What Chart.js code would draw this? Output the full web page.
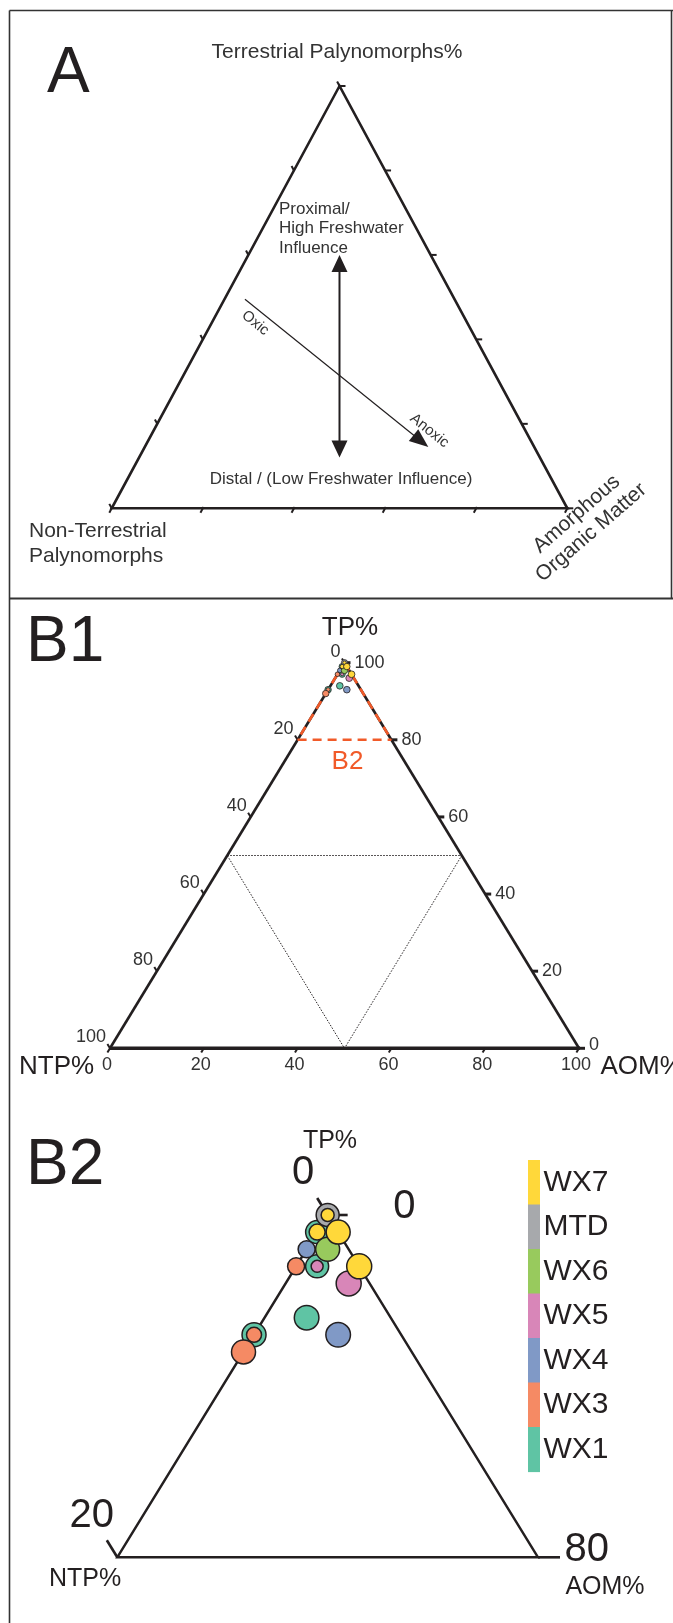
<!DOCTYPE html>
<html>
<head>
<meta charset="utf-8">
<script src="https://cdn.jsdelivr.net/npm/chart.js@4.4.1/dist/chart.umd.min.js"></script>
<style>
  html, body { margin: 0; padding: 0; background: #fff; }
  #fig { position: relative; width: 673px; height: 1623px; overflow: hidden; background: #fff; }
  #fig canvas { position: absolute; left: 0; }
</style>
</head>
<body>
<div id="fig">
  <canvas id="panelA"  width="673" height="600" style="top:0px"></canvas>
  <canvas id="panelB1" width="673" height="500" style="top:600px"></canvas>
  <canvas id="panelB2" width="673" height="523" style="top:1100px"></canvas>
</div>
<script>
// ---------------- data ----------------
// stratigraphic units (legend order, top to bottom)
const units = ['WX7', 'MTD', 'WX6', 'WX5', 'WX4', 'WX3', 'WX1'];

// one entry per sample: unit and palynofacies composition (%)
const sampleUnit = ['MTD', 'WX7', 'WX1', 'WX7', 'WX7', 'WX4', 'WX6', 'WX3', 'WX1',
                    'WX5', 'WX7', 'WX5', 'WX1', 'WX4', 'WX1', 'WX3', 'WX3'];
const tpPct  = [100, 100, 99, 99, 99, 98, 98, 97, 97, 97, 97, 96, 94, 93, 93, 93, 92];
const ntpPct = [  0,   0,  1,  1,  0,  2,  1,  3,  2,  2,  0,  1,  4,  3,  7,  7,  8];
const aomPct = [  0,   0,  0,  0,  1,  0,  1,  0,  1,  1,  3,  3,  2,  4,  0,  0,  0];

// axis ticks (%)
const tickValues = [0, 20, 40, 60, 80, 100];

// interpretive arrows of the template diagram, as [TP, NTP, AOM]
const freshwaterTop    = [60, 20, 20];
const freshwaterBottom = [12, 44, 44];
const redoxStart       = [49.5, 46, 4.5];
const redoxEnd         = [14.5, 23.25, 62.25];

// enlarged window (B2): TP 80-100
const windowTpMin = 80;

// ---------------- styles ----------------
const INK = '#231f20';
const FONT = "'Liberation Sans', Arial, Helvetica, sans-serif";
const ORANGE = '#f15a29';
const unitColor = {
  WX7: '#ffd83a', MTD: '#a7a9ac', WX6: '#98ca5d', WX5: '#d886b8',
  WX4: '#8099c6', WX3: '#f58a64', WX1: '#5fc4a4'
};
// marker radius for each sample in the enlarged panel
const sampleRadius = [11.5, 6.5, 11.5, 8, 12, 8.5, 12, 8.5, 11.5, 6, 12.5, 12.5, 12.3, 12.3, 12, 7.5, 12];

// ---------------- helpers ----------------
// ternary -> cartesian data coordinates (x along base, y = TP)
function tern(tp, ntp, aom) { return { x: aom + tp / 2, y: tp }; }
function toPixel(chart, t) {
  const p = tern(t[0], t[1], t[2]);
  return { x: chart.scales.x.getPixelForValue(p.x), y: chart.scales.y.getPixelForValue(p.y) };
}
function add(a, d, k) { return { x: a.x + d.x * k, y: a.y + d.y * k }; }
function dirOf(a, b) { const dx = b.x - a.x, dy = b.y - a.y, l = Math.hypot(dx, dy); return { x: dx / l, y: dy / l }; }
function seg(ctx, a, b) { ctx.beginPath(); ctx.moveTo(a.x, a.y); ctx.lineTo(b.x, b.y); ctx.stroke(); }
function text(ctx, s, x, y, size, align, base, color, rot) {
  ctx.save();
  ctx.font = size + 'px ' + FONT;
  ctx.fillStyle = color || INK;
  ctx.textAlign = align || 'center';
  ctx.textBaseline = base || 'middle';
  ctx.translate(x, y);
  if (rot) ctx.rotate(rot);
  ctx.fillText(s, 0, 0);
  ctx.restore();
}
function arrowHead(ctx, tip, dir, len, half) {
  const base = add(tip, dir, -len);
  const n = { x: -dir.y, y: dir.x };
  ctx.beginPath();
  ctx.moveTo(tip.x, tip.y);
  ctx.lineTo(base.x + n.x * half, base.y + n.y * half);
  ctx.lineTo(base.x - n.x * half, base.y - n.y * half);
  ctx.closePath();
  ctx.fill();
}
function leftBorder(ctx, h) {
  ctx.save(); ctx.strokeStyle = '#333'; ctx.lineWidth = 1.6;
  seg(ctx, { x: 9.5, y: 0 }, { x: 9.5, y: h }); ctx.restore();
}
function unitDatasets(scale, bw) {
  return units.map(u => {
    const idx = sampleUnit.map((s, i) => (s === u ? i : -1)).filter(i => i >= 0);
    return {
      label: u,
      data: idx.map(i => tern(tpPct[i], ntpPct[i], aomPct[i])),
      pointRadius: idx.map(i => sampleRadius[i] * scale),
      pointHoverRadius: idx.map(i => sampleRadius[i] * scale),
      pointBackgroundColor: unitColor[u],
      pointBorderColor: INK,
      pointBorderWidth: bw,
      showLine: false,
      clip: false
    };
  });
}
function makeChart(id, xr, yr, pad, datasets, plugin) {
  return new Chart(document.getElementById(id), {
    type: 'scatter',
    data: { datasets: datasets },
    options: {
      responsive: false,
      animation: false,
      devicePixelRatio: 1,
      events: [],
      layout: { padding: pad },
      scales: {
        x: { type: 'linear', min: xr[0], max: xr[1], display: false },
        y: { type: 'linear', min: yr[0], max: yr[1], display: false }
      },
      plugins: { legend: { display: false }, tooltip: { enabled: false } }
    },
    plugins: [plugin]
  });
}

// ---------------- panel A: interpretive template ----------------
const panelAPlugin = {
  id: 'panelA',
  afterDraw(chart) {
    const ctx = chart.ctx;
    ctx.save();
    // frame
    ctx.strokeStyle = '#333'; ctx.lineWidth = 1.6;
    seg(ctx, { x: 9.5, y: 10.5 }, { x: 673, y: 10.5 });
    seg(ctx, { x: 9.5, y: 10.5 }, { x: 9.5, y: 600 });
    seg(ctx, { x: 671.5, y: 10.5 }, { x: 671.5, y: 598.5 });
    ctx.lineWidth = 2;
    seg(ctx, { x: 9.5, y: 598.5 }, { x: 673, y: 598.5 });

    const apex = toPixel(chart, [100, 0, 0]);
    const bl = toPixel(chart, [0, 100, 0]);
    const br = toPixel(chart, [0, 0, 100]);
    ctx.strokeStyle = INK; ctx.lineWidth = 2.6; ctx.lineJoin = 'miter';
    ctx.beginPath(); ctx.moveTo(apex.x, apex.y); ctx.lineTo(bl.x, bl.y); ctx.lineTo(br.x, br.y); ctx.closePath(); ctx.stroke();

    // ticks
    const dLeft = dirOf(br, apex), dBottom = dirOf(apex, bl);
    ctx.lineWidth = 2;
    tickValues.forEach(v => {
      const pl = toPixel(chart, [100 - v, v, 0]);
      seg(ctx, pl, add(pl, dLeft, 5));
      const pr = toPixel(chart, [v, 0, 100 - v]);
      seg(ctx, pr, { x: pr.x + 6, y: pr.y });
      const pb = toPixel(chart, [0, 100 - v, v]);
      seg(ctx, add(pb, dBottom, -1.5), add(pb, dBottom, 5));
    });

    // freshwater double arrow
    const ft = toPixel(chart, freshwaterTop), fb = toPixel(chart, freshwaterBottom);
    const dv = dirOf(ft, fb);
    ctx.fillStyle = INK; ctx.lineWidth = 2;
    seg(ctx, add(ft, dv, 10), add(fb, dv, -10));
    arrowHead(ctx, ft, { x: -dv.x, y: -dv.y }, 17, 8);
    arrowHead(ctx, fb, dv, 17, 8);

    // oxic -> anoxic arrow
    const rs = toPixel(chart, redoxStart), re = toPixel(chart, redoxEnd);
    const dr = dirOf(rs, re);
    ctx.lineWidth = 1.2;
    seg(ctx, rs, add(re, dr, -12));
    arrowHead(ctx, re, dr, 19, 7.5);
    const ang = Math.atan2(dr.y, dr.x);
    const nrm = { x: -dr.y, y: dr.x };
    const oxicAt = add(add(rs, dr, 23), nrm, 12);
    text(ctx, 'Oxic', oxicAt.x, oxicAt.y, 15, 'center', 'middle', '#333', ang);
    const anoxAt = add(add(rs, dr, 226), nrm, -13.5);
    text(ctx, 'Anoxic', anoxAt.x, anoxAt.y, 15, 'center', 'middle', '#333', ang);

    // labels
    text(ctx, 'A', 47, 92, 64, 'left', 'alphabetic', INK);
    text(ctx, 'Terrestrial Palynomorphs%', 337, 52, 21, 'center', 'middle', '#333');
    text(ctx, 'Proximal/', 279, 209, 17, 'left', 'middle', '#333');
    text(ctx, 'High Freshwater', 279, 228.5, 17, 'left', 'middle', '#333');
    text(ctx, 'Influence', 279, 248, 17, 'left', 'middle', '#333');
    text(ctx, 'Distal / (Low Freshwater Influence)', 341, 479.5, 17, 'center', 'middle', '#333');
    text(ctx, 'Non-Terrestrial', 29, 537, 21, 'left', 'alphabetic', '#333');
    text(ctx, 'Palynomorphs', 29, 562, 21, 'left', 'alphabetic', '#333');
    const rot = -41 * Math.PI / 180;
    text(ctx, 'Amorphous', 580.5, 518.5, 21, 'center', 'alphabetic', '#333', rot);
    text(ctx, 'Organic Matter', 595, 537, 21, 'center', 'alphabetic', '#333', rot);
    ctx.restore();
  }
};
makeChart('panelA', [0, 100], [0, 100],
  { left: 111.7, right: 673 - 567.3, top: 86, bottom: 600 - 508.3 }, [], panelAPlugin);

// ---------------- panel B1: full ternary plot ----------------
const OFF_B1 = 600;
const panelB1Plugin = {
  id: 'panelB1',
  beforeDatasetsDraw(chart) {
    const ctx = chart.ctx;
    ctx.save();
    leftBorder(ctx, 500);
    const apex = toPixel(chart, [100, 0, 0]);
    const bl = toPixel(chart, [0, 100, 0]);
    const br = toPixel(chart, [0, 0, 100]);

    // dotted central sub-triangle
    ctx.strokeStyle = INK; ctx.lineWidth = 1; ctx.setLineDash([1.5, 1.5]);
    const m1 = toPixel(chart, [50, 50, 0]), m2 = toPixel(chart, [50, 0, 50]), m3 = toPixel(chart, [0, 50, 50]);
    ctx.beginPath(); ctx.moveTo(m1.x, m1.y); ctx.lineTo(m2.x, m2.y); ctx.lineTo(m3.x, m3.y); ctx.closePath(); ctx.stroke();
    ctx.setLineDash([]);

    // outline
    ctx.lineWidth = 2.6; ctx.lineJoin = 'miter';
    seg(ctx, bl, apex); seg(ctx, apex, br);
    ctx.lineWidth = 3.6;
    seg(ctx, add(bl, { x: -1, y: 0 }, 1), add(br, { x: 1, y: 0 }, 1));

    // ticks and tick labels
    const dLeft = dirOf(br, apex), dBottom = dirOf(apex, bl);
    tickValues.forEach(v => {
      const pl = toPixel(chart, [100 - v, v, 0]);
      ctx.lineWidth = 2; seg(ctx, pl, add(pl, dLeft, 5));
      text(ctx, String(v), pl.x - 4, pl.y - 11, 18, 'right', 'middle', '#333');
      const pr = toPixel(chart, [v, 0, 100 - v]);
      ctx.lineWidth = 3; seg(ctx, pr, { x: pr.x + 6, y: pr.y });
      text(ctx, String(v), pr.x + 10, pr.y - (v === 0 ? 3 : 0), 18, 'left', 'middle', '#333');
      const pb = toPixel(chart, [0, 100 - v, v]);
      ctx.lineWidth = 2; seg(ctx, pb, add(pb, dBottom, 5));
      text(ctx, String(v), pb.x - 3, pb.y + 16.5, 18, 'center', 'middle', '#333');
    });

    // enlarged window outline (B2)
    const wl = toPixel(chart, [windowTpMin, 100 - windowTpMin, 0]);
    const wr = toPixel(chart, [windowTpMin, 0, 100 - windowTpMin]);
    ctx.strokeStyle = ORANGE; ctx.lineWidth = 2.6; ctx.setLineDash([9, 6]);
    seg(ctx, apex, wl); seg(ctx, apex, wr); seg(ctx, wl, wr);
    ctx.setLineDash([]);
    text(ctx, 'B2', (wl.x + wr.x) / 2 + 3, wl.y + 22, 26, 'center', 'middle', ORANGE);

    // titles
    text(ctx, 'B1', 26, 660.7 - OFF_B1, 64, 'left', 'alphabetic', INK);
    text(ctx, 'TP%', 350, 628 - OFF_B1, 26, 'center', 'middle', INK);
    text(ctx, 'NTP%', 19, 1067 - OFF_B1, 26, 'left', 'middle', INK);
    text(ctx, 'AOM%', 600.5, 1067 - OFF_B1, 26, 'left', 'middle', INK);
    ctx.restore();
  }
};
makeChart('panelB1', [0, 100], [0, 100],
  { left: 110, right: 673 - 579, top: 662.7 - OFF_B1, bottom: 500 - (1048.3 - OFF_B1) },
  unitDatasets(0.27, 0.8), panelB1Plugin);

// ---------------- panel B2: enlarged TP-rich corner ----------------
const OFF_B2 = 1100;
const panelB2Plugin = {
  id: 'panelB2',
  beforeDatasetsDraw(chart) {
    const ctx = chart.ctx;
    ctx.save();
    leftBorder(ctx, 523);
    const apex = toPixel(chart, [100, 0, 0]);
    const bl = toPixel(chart, [windowTpMin, 100 - windowTpMin, 0]);
    const br = toPixel(chart, [windowTpMin, 0, 100 - windowTpMin]);
    ctx.strokeStyle = INK; ctx.lineWidth = 2.4; ctx.lineJoin = 'miter';
    ctx.beginPath(); ctx.moveTo(apex.x, apex.y); ctx.lineTo(bl.x, bl.y); ctx.lineTo(br.x, br.y); ctx.closePath(); ctx.stroke();

    // corner ticks
    const dLeft = dirOf(br, apex);
    ctx.lineWidth = 2.6;
    const tApex = add(apex, dLeft, 20); seg(ctx, apex, tApex);
    const tApexR = { x: apex.x + 20, y: apex.y }; seg(ctx, apex, tApexR);
    const tBl = add(bl, dLeft, 20); seg(ctx, bl, tBl);
    const tBr = { x: br.x + 22, y: br.y }; seg(ctx, br, tBr);

    text(ctx, String(tickValues[0]), tApex.x - 14, tApex.y - 25, 40, 'center', 'middle', INK);
    text(ctx, String(100 - windowTpMin), tBl.x - 15, tBl.y - 24, 40, 'center', 'middle', INK);
    text(ctx, String(tickValues[0]), tApexR.x + 45.5, apex.y - 8, 40, 'left', 'middle', INK);
    text(ctx, String(windowTpMin), tBr.x + 4.5, br.y - 7, 40, 'left', 'middle', INK);

    // titles
    text(ctx, 'B2', 26, 1183.8 - OFF_B2, 64, 'left', 'alphabetic', INK);
    text(ctx, 'TP%', 330, 1141.5 - OFF_B2, 25, 'center', 'middle', INK);
    text(ctx, 'NTP%', 85, 1579.5 - OFF_B2, 25, 'center', 'middle', INK);
    text(ctx, 'AOM%', 605, 1587 - OFF_B2, 25, 'center', 'middle', INK);

    // unit colour bar legend
    const top = 1160 - OFF_B2, h = 44.5;
    chart.data.datasets.forEach((ds, i) => {
      ctx.fillStyle = ds.pointBackgroundColor;
      ctx.fillRect(528, top + i * h, 12, h + 0.6);
      text(ctx, ds.label, 543.5, top + i * h + h / 2, 30, 'left', 'middle', INK);
    });
    ctx.restore();
  }
};
makeChart('panelB2', [50 - (100 - windowTpMin) / 2, 50 + (100 - windowTpMin) / 2], [windowTpMin, 100],
  { left: 117.3, right: 673 - 538, top: 1215 - OFF_B2, bottom: 523 - (1557.3 - OFF_B2) },
  unitDatasets(1, 1.5), panelB2Plugin);
</script>
</body>
</html>
